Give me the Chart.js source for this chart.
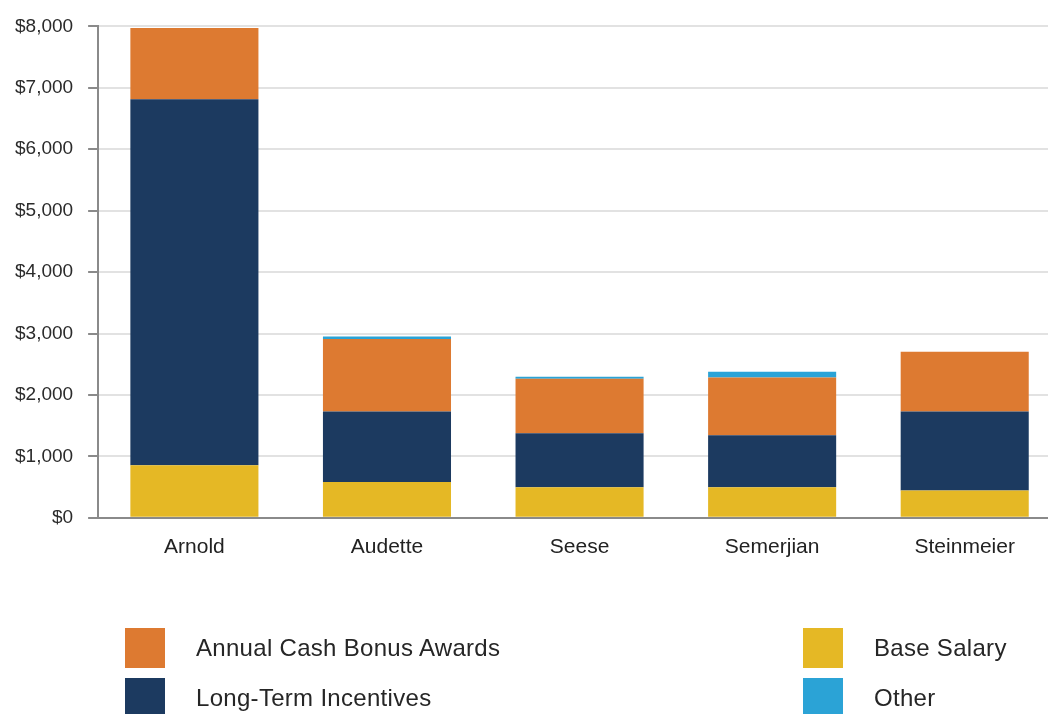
<!DOCTYPE html>
<html>
<head>
<meta charset="utf-8">
<script src="https://cdn.jsdelivr.net/npm/chart.js@4/dist/chart.umd.min.js"></script>
<style>
  html, body { margin: 0; padding: 0; background: #fff; overflow: hidden; width: 1048px; height: 714px; }
  #wrap { position: absolute; left: 0; top: 0; width: 1064px; height: 585px; }
  #legend { position: absolute; left: 0; top: 0; width: 1048px; height: 714px; pointer-events: none;
            font-family: "Liberation Sans", Arial, sans-serif; font-size: 24px; letter-spacing: 0.3px; color: #262626; }
  .item { position: absolute; height: 40px; }
  .box { position: absolute; left: 0; top: 0; width: 40px; height: 40px; }
  .lbl { position: absolute; left: 71px; top: 6px; white-space: nowrap; }
</style>
</head>
<body>
<div id="wrap"><canvas id="c"></canvas></div>
<div id="legend"></div>
<script>
const categories = ["Arnold", "Audette", "Seese", "Semerjian", "Steinmeier"];
const baseSalary = [855, 584, 498, 498, 445];
const longTermIncentives = [5961, 1146, 877, 845, 1285];
const annualCashBonus = [1156, 1179, 890, 943, 973];
const other = [0, 42, 33, 93, 0];
const yTicks = [0, 1000, 2000, 3000, 4000, 5000, 6000, 7000, 8000];

const seriesNames = ["Base Salary", "Long-Term Incentives", "Annual Cash Bonus Awards", "Other"];
const seriesColors = ["#E5B825", "#1C3A60", "#DD7A31", "#2BA3D6"];
const seriesData = [baseSalary, longTermIncentives, annualCashBonus, other];

const datasets = seriesNames.map((n, i) => ({
  label: n, data: seriesData[i], backgroundColor: seriesColors[i], borderWidth: 0,
  barPercentage: 0.665, categoryPercentage: 1.0
}));

const canvas = document.getElementById('c');
canvas.width = 1064; canvas.height = 585;

new Chart(canvas, {
  type: 'bar',
  data: { labels: categories, datasets },
  options: {
    responsive: false, animation: false, devicePixelRatio: 1,
    layout: { padding: { left: 0, top: 22, right: 3, bottom: 8 } },
    plugins: { legend: { display: false }, tooltip: { enabled: false } },
    scales: {
      x: {
        stacked: true,
        grid: { display: false, drawTicks: false },
        border: { display: true, color: '#8a8a8a', width: 2 },
        ticks: { color: '#222', padding: 17, font: { family: 'Liberation Sans', size: 21 } }
      },
      y: {
        stacked: true, min: 0, max: 8000,
        afterBuildTicks: (axis) => { axis.ticks = yTicks.map(v => ({ value: v })); },
        grid: { color: '#e2e2e2', lineWidth: 2, tickLength: 10, tickColor: '#8a8a8a', tickWidth: 2 },
        border: { display: true, color: '#8a8a8a', width: 2 },
        ticks: {
          color: '#2b2b2b', padding: 15, font: { family: 'Liberation Sans', size: 19 },
          callback: (v) => '$' + Number(v).toLocaleString('en-US')
        }
      }
    }
  }
});

// HTML legend built from the series arrays
const legendOrder = [
  { idx: 2, left: 125, top: 628 },
  { idx: 1, left: 125, top: 678 },
  { idx: 0, left: 803, top: 628 },
  { idx: 3, left: 803, top: 678 }
];
const lg = document.getElementById('legend');
legendOrder.forEach(o => {
  const d = document.createElement('div');
  d.className = 'item';
  d.style.left = o.left + 'px'; d.style.top = o.top + 'px';
  const b = document.createElement('div'); b.className = 'box'; b.style.background = seriesColors[o.idx];
  const t = document.createElement('div'); t.className = 'lbl'; t.textContent = seriesNames[o.idx];
  d.appendChild(b); d.appendChild(t); lg.appendChild(d);
});
</script>
</body>
</html>
